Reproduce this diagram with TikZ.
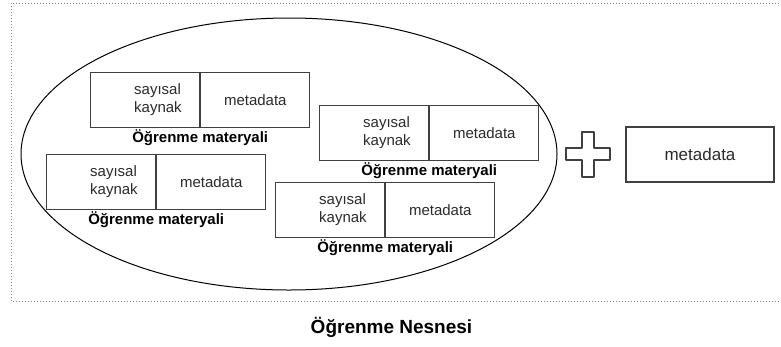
\documentclass[tikz,border=0pt]{standalone}
\usepackage{fontspec}
\setmainfont{Liberation Sans}
\begin{document}
\begin{tikzpicture}[x=1pt,y=-1pt,
  cell/.style={draw=boxline,line width=1.2pt,rectangle,inner sep=0pt,
    minimum width=109pt,minimum height=55pt,anchor=north west},
  celltext/.style={text=txt,font=\fontsize{15}{18}\selectfont,inner sep=0pt},
  srctext/.style={celltext,align=left,anchor=west},
  caption/.style={font=\bfseries\fontsize{15}{18}\selectfont,inner sep=0pt,anchor=base},
  frame/.style={draw=gray,line width=1pt,dash pattern=on 1pt off 2pt},
  plusmark/.style={draw=boxline,line width=1.2pt,line join=round}]
\definecolor{boxline}{HTML}{404040}
\definecolor{txt}{HTML}{2A2A2A}
\useasboundingbox (0,0) rectangle (781,346);

% dotted outer frame (open on the right)
\draw[frame] (782,3) -- (11,3) -- (11,301) -- (782,301);

% the learning object ellipse
\draw[line width=1pt] (289,154) ellipse [x radius=268, y radius=136];

% learning material 1
\node[cell] (m1src) at (90,72) {};
\node[cell] (m1meta) at (m1src.north east) {};
\node[srctext] (m1srct) at ([xshift=44pt]m1src.west) {sayısal\\kaynak};
\node[celltext] (m1metat) at (m1meta.center) {metadata};
\node[caption] (m1cap) at ([yshift=-14.5pt]m1src.south east) {Öğrenme materyali};

% learning material 2
\node[cell] (m2src) at (319,105) {};
\node[cell] (m2meta) at (m2src.north east) {};
\node[srctext] (m2srct) at ([xshift=44pt]m2src.west) {sayısal\\kaynak};
\node[celltext] (m2metat) at (m2meta.center) {metadata};
\node[caption] (m2cap) at ([yshift=-14.5pt]m2src.south east) {Öğrenme materyali};

% learning material 3
\node[cell] (m3src) at (46,154) {};
\node[cell] (m3meta) at (m3src.north east) {};
\node[srctext] (m3srct) at ([xshift=44pt]m3src.west) {sayısal\\kaynak};
\node[celltext] (m3metat) at (m3meta.center) {metadata};
\node[caption] (m3cap) at ([yshift=-14.5pt]m3src.south east) {Öğrenme materyali};

% learning material 4
\node[cell] (m4src) at (275,182) {};
\node[cell] (m4meta) at (m4src.north east) {};
\node[srctext] (m4srct) at ([xshift=44pt]m4src.west) {sayısal\\kaynak};
\node[celltext] (m4metat) at (m4meta.center) {metadata};
\node[caption] (m4cap) at ([yshift=-14.5pt]m4src.south east) {Öğrenme materyali};

% plus sign
\draw[plusmark] (582,132) -- (594,132) -- (594,148) -- (610,148) -- (610,160)
  -- (594,160) -- (594,177) -- (582,177) -- (582,160) -- (566,160)
  -- (566,148) -- (582,148) -- cycle;

% object-level metadata
\node[draw=boxline,line width=1.2pt,rectangle,inner sep=0pt,minimum width=148pt,
  minimum height=55pt,text=txt,font=\fontsize{17}{20}\selectfont] (objmeta) at (700,154.5) {metadata};

% title
\node[font=\bfseries\fontsize{19}{22}\selectfont,inner sep=0pt,anchor=base] (title) at (391.5,333) {Öğrenme Nesnesi};
\end{tikzpicture}
\end{document}
